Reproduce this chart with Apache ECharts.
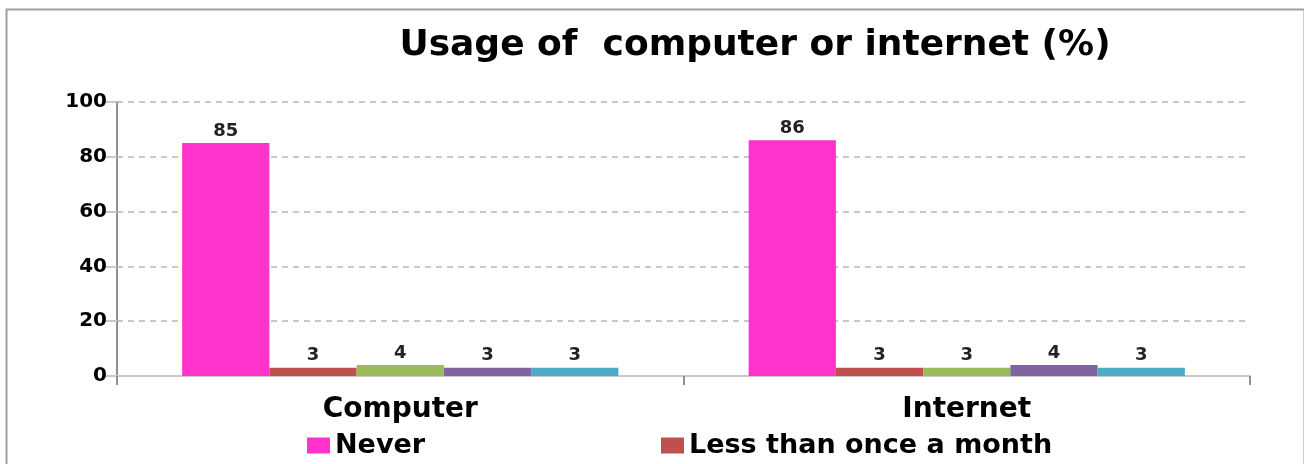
<!DOCTYPE html>
<html>
<head>
<meta charset="utf-8">
<script src="https://cdn.jsdelivr.net/npm/echarts@6/dist/echarts.min.js"></script>
<style>html,body{margin:0;padding:0;background:#fff}#c{width:1304px;height:464px}</style>
</head>
<body>
<div id="c"></div>
<script>
const title = 'Usage of  computer or internet (%)';
const categories = ['Computer', 'Internet'];
const seriesNames = ['Never', 'Less than once a month', 'Series 3', 'Series 4', 'Series 5'];
const never = [85, 86];
const lessThanMonthly = [3, 3];
const series3 = [4, 3];
const series4 = [3, 4];
const series5 = [3, 3];
const yTicks = [0, 20, 40, 60, 80, 100];

const colors = ['#FF33CC', '#C0504D', '#9BBB59', '#8064A2', '#4BACC6'];
const values = [never, lessThanMonthly, series3, series4, series5];
const FONT = 'DejaVu Sans';

const chart = echarts.init(document.getElementById('c'));
chart.setOption({
  animation: false,
  color: colors,
  title: {
    text: title, left: 750, top: 23, textAlign: 'center',
    textStyle: {fontFamily: FONT, fontSize: 36, fontWeight: 'bold', color: '#000'}
  },
  graphic: [{
    type: 'rect', left: 4, top: 7, shape: {width: 1298, height: 470},
    style: {fill: 'none', stroke: '#a0a0a0', lineWidth: 2}, silent: true
  }],
  legend: [
    {data: ['Never'], left: 302, top: 427, icon: 'rect', itemWidth: 23, itemHeight: 16, itemGap: 10,
     textStyle: {fontFamily: FONT, fontSize: 27, fontWeight: 'bold', color: '#000'}},
    {data: ['Less than once a month'], left: 656, top: 427, icon: 'rect', itemWidth: 23, itemHeight: 16,
     textStyle: {fontFamily: FONT, fontSize: 27, fontWeight: 'bold', color: '#000'}}
  ],
  grid: {left: 117, right: 54, top: 102, bottom: 88},
  xAxis: {
    type: 'category', data: categories,
    axisLine: {lineStyle: {color: '#c8c8c8', width: 2}},
    axisTick: {show: true, length: 9, lineStyle: {color: '#909090', width: 2}},
    axisLabel: {margin: 20, fontFamily: FONT, fontSize: 28, fontWeight: 'bold', color: '#000'}
  },
  yAxis: {
    type: 'value', min: 0, max: 100, interval: 20,
    axisLine: {show: true, lineStyle: {color: '#909090', width: 2}},
    axisTick: {show: true, length: 12, lineStyle: {color: '#c8c8c8', width: 2}},
    axisLabel: {margin: 10, fontFamily: FONT, fontSize: 20, fontWeight: 'bold', color: '#000',
      formatter: v => yTicks.includes(v) ? String(v) : ''},
    splitLine: {lineStyle: {color: '#c8c8c8', type: [6, 5], width: 2}}
  },
  series: seriesNames.map((name, i) => ({
    name, type: 'bar', data: values[i],
    barGap: '0%', barCategoryGap: '23%',
    itemStyle: {color: colors[i]},
    label: {show: true, position: 'top', distance: 3, fontFamily: FONT, fontSize: 18, fontWeight: 'bold', color: '#222'}
  }))
});
</script>
</body>
</html>
